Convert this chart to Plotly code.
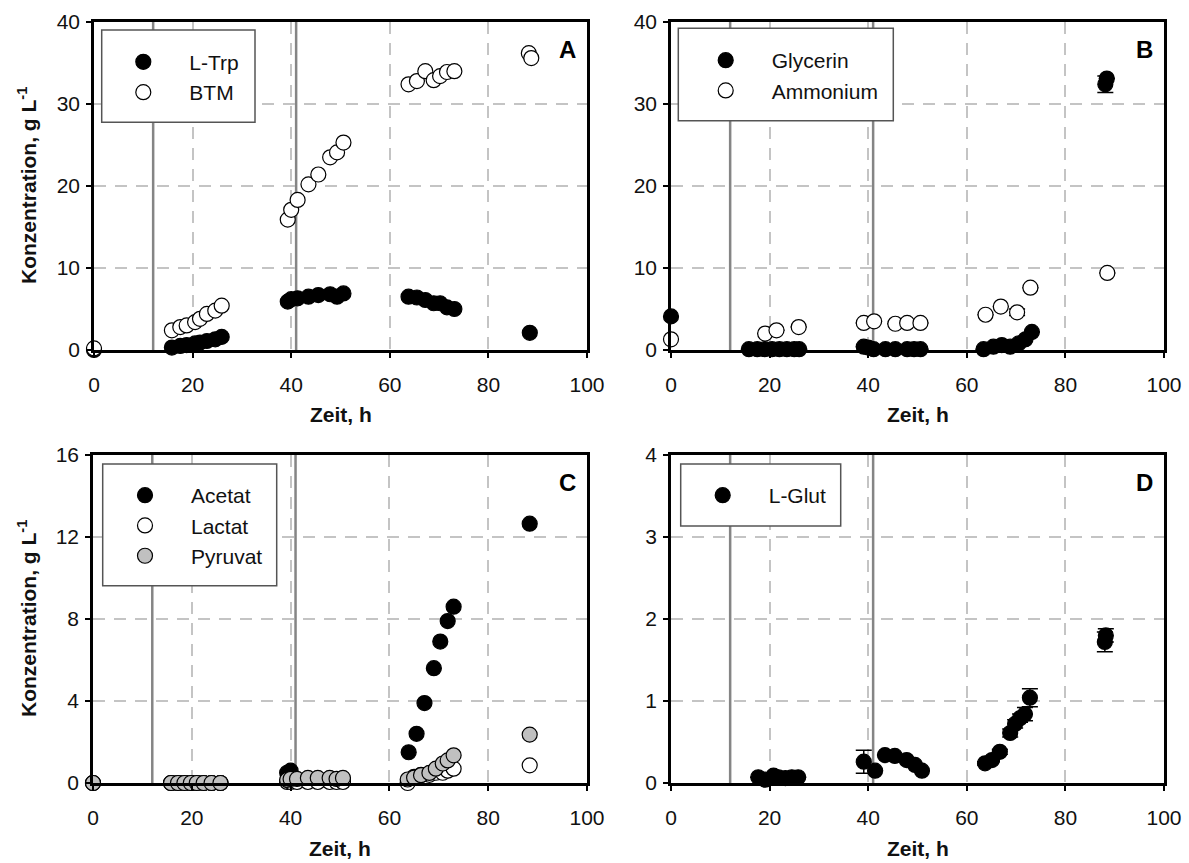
import plotly.graph_objects as go

W, H = 1189, 863

# ---------------- data ----------------
# Panel A
trp_t = [0, 15.8, 17.5, 18.8, 20.5, 21.5, 22.9, 24.6, 25.9,
         39.3, 40.0, 41.3, 43.5, 45.5, 47.9, 49.3, 50.6,
         63.8, 65.5, 67.2, 68.9, 70.2, 71.6, 73.1, 88.4]
trp_v = [0.0, 0.3, 0.5, 0.6, 0.8, 0.9, 1.1, 1.3, 1.6,
         5.9, 6.2, 6.3, 6.5, 6.7, 6.8, 6.5, 6.9,
         6.5, 6.4, 6.1, 5.7, 5.7, 5.2, 5.0, 2.1]
btm_t = [0, 15.8, 17.5, 18.8, 20.5, 21.5, 22.9, 24.6, 25.9,
         39.3, 40.0, 41.3, 43.5, 45.5, 47.9, 49.3, 50.6,
         63.8, 65.5, 67.2, 68.9, 70.2, 71.6, 73.1, 88.2, 88.7]
btm_v = [0.2, 2.4, 2.8, 3.0, 3.4, 3.8, 4.4, 4.8, 5.4,
         15.9, 17.1, 18.3, 20.2, 21.4, 23.5, 24.1, 25.3,
         32.4, 32.8, 34.0, 32.9, 33.4, 33.9, 34.0, 36.2, 35.6]

# Panel B
gly_t = [0, 15.8, 17.5, 19.0, 20.5, 22.0, 23.5, 25.0, 26.0,
         39.1, 40.0, 41.1, 43.5, 45.5, 47.9, 49.3, 50.6,
         63.4, 65.4, 67.1, 68.8, 70.5, 71.9, 73.2, 88.1, 88.4]
gly_v = [4.1, 0.1, 0.1, 0.1, 0.1, 0.1, 0.1, 0.1, 0.1,
         0.4, 0.3, 0.1, 0.1, 0.1, 0.1, 0.1, 0.1,
         0.1, 0.4, 0.6, 0.4, 0.8, 1.3, 2.2, 32.4, 33.1]
gly_e = [0, 0, 0, 0, 0, 0, 0, 0, 0,
         0, 0, 0, 0, 0, 0, 0, 0,
         0, 0, 0, 0, 0, 0, 0, 1.0, 0]
amm_t = [0, 19.1, 21.4, 25.9, 39.1, 41.2, 45.5, 47.9, 50.6,
         63.8, 66.9, 70.2, 72.9, 88.5]
amm_v = [1.3, 2.0, 2.4, 2.8, 3.3, 3.5, 3.2, 3.3, 3.3,
         4.3, 5.3, 4.6, 7.6, 9.4]
amm_e = [0, 0, 0, 0, 0, 0, 0, 0, 0, 0, 0, 0.4, 0, 0]

# Panel C
ace_t = [0, 15.8, 17.2, 18.5, 19.8, 21.0, 22.4, 24.0, 25.8,
         39.3, 40.0, 41.3, 43.5, 45.5, 47.9, 49.3, 50.6,
         63.9, 65.5, 67.1, 69.0, 70.3, 71.8, 73.0, 88.4]
ace_v = [0, 0, 0, 0, 0, 0, 0, 0, 0,
         0.5, 0.6, 0.1, 0.1, 0.1, 0.1, 0.1, 0.1,
         1.5, 2.4, 3.9, 5.6, 6.9, 7.9, 8.6, 12.65]
lac_t = [0, 15.8, 17.2, 18.5, 19.8, 21.0, 22.4, 24.0, 25.8,
         39.3, 40.0, 41.3, 43.5, 45.5, 47.9, 49.3, 50.6,
         63.7, 65.0, 66.4, 68.1, 69.4, 70.8, 71.8, 73.0, 88.4]
lac_v = [0, 0, 0, 0, 0, 0, 0, 0, 0,
         0.05, 0.05, 0.05, 0.05, 0.05, 0.05, 0.05, 0.05,
         0.0, 0.3, 0.4, 0.4, 0.5, 0.5, 0.6, 0.7, 0.86]
pyr_t = [0, 15.8, 17.2, 18.5, 19.8, 21.0, 22.4, 24.0, 25.8,
         39.3, 40.0, 41.3, 43.5, 45.5, 47.9, 49.3, 50.6,
         63.7, 65.0, 66.4, 68.1, 69.4, 70.8, 71.8, 73.0, 88.4]
pyr_v = [0, 0, 0, 0, 0, 0, 0, 0, 0,
         0.15, 0.2, 0.2, 0.25, 0.25, 0.25, 0.2, 0.25,
         0.17, 0.26, 0.38, 0.49, 0.7, 0.95, 1.1, 1.35, 2.36]

# Panel D
glu_t = [17.7, 19.1, 20.8, 21.8, 23.2, 24.5, 25.8,
         39.1, 41.4, 43.4, 45.4, 47.8, 49.5, 50.9,
         63.7, 65.1, 66.7, 68.8, 69.8, 70.8, 71.8, 72.8, 88.0, 88.2]
glu_v = [0.07, 0.04, 0.09, 0.07, 0.06, 0.07, 0.07,
         0.26, 0.15, 0.34, 0.33, 0.28, 0.22, 0.15,
         0.24, 0.28, 0.38, 0.61, 0.72, 0.79, 0.84, 1.04, 1.72, 1.80]
glu_e = [0, 0, 0, 0, 0, 0, 0,
         0.14, 0, 0, 0, 0, 0, 0,
         0.02, 0.02, 0.03, 0.05, 0.05, 0.05, 0.08, 0.11, 0.12, 0.08]

feed_times = [12, 41]
panel_letters = ["A", "B", "C", "D"]
y_ranges = [[0, 40], [0, 40], [0, 16], [0, 4]]
y_dtick = [10, 10, 4, 1]
x_title = "Zeit, h"
y_title = "Konzentration, g L<sup>-1</sup>"

# ---------------- style ----------------
FONT = "Liberation Sans, Arial, sans-serif"
TXT = "#111111"
GRID = "#c4c4c4"
VLINE = "#858585"

def px_x(p):
    return p / W

def px_y(p):
    return 1 - p / H

# plot areas in pixels (left, right, top, bottom)
areas = [(94, 587, 22, 350), (671, 1164, 22, 350),
         (93, 587, 455, 783), (671, 1164, 455, 783)]

fig = go.Figure()

def marker(fill):
    return dict(symbol="circle", size=15, color=fill,
                line=dict(color="black", width=1.2))

def add(t, v, name, fill, idx, err=None):
    ax = "" if idx == 0 else str(idx + 1)
    kw = {}
    if err is not None:
        kw["error_y"] = dict(type="data", array=err, visible=True,
                             color="black", thickness=1.5, width=8)
    fig.add_trace(go.Scatter(
        x=t, y=v, name=name, mode="markers", marker=marker(fill),
        xaxis="x" + ax, yaxis="y" + ax, cliponaxis=False,
        legend="legend" + ax, **kw))

add(trp_t, trp_v, "L-Trp", "black", 0)
add(btm_t, btm_v, "BTM", "white", 0)
add(gly_t, gly_v, "Glycerin", "black", 1, gly_e)
add(amm_t, amm_v, "Ammonium", "white", 1, amm_e)
add(ace_t, ace_v, "Acetat", "black", 2)
add(lac_t, lac_v, "Lactat", "white", 2)
add(pyr_t, pyr_v, "Pyruvat", "#c0c0c0", 2)
add(glu_t, glu_v, "L-Glut", "black", 3, glu_e)

layout = dict(
    template="none",
    width=W, height=H,
    margin=dict(l=0, r=0, t=0, b=0, autoexpand=False),
    paper_bgcolor="white", plot_bgcolor="rgba(0,0,0,0)",
    font=dict(family=FONT, size=21, color=TXT),
    showlegend=True,
)

shapes = []
annotations = []
for i, (l, r, t, b) in enumerate(areas):
    ax = "" if i == 0 else str(i + 1)
    layout["xaxis" + ax] = dict(
        domain=[px_x(l), px_x(r)], anchor="y" + ax, range=[0, 100],
        tickmode="linear", tick0=0, dtick=20, automargin=False,
        showline=True, linecolor="black", linewidth=2.5, mirror=True,
        ticks="outside", ticklen=5, tickwidth=1.5, tickcolor="black",
        showgrid=True, gridcolor=GRID, gridwidth=1.5, griddash="12px,9px",
        zeroline=False, ticklabelstandoff=9,
        tickfont=dict(family=FONT, size=21, color=TXT),
    )
    layout["yaxis" + ax] = dict(
        domain=[px_y(b), px_y(t)], anchor="x" + ax, range=y_ranges[i],
        tickmode="linear", tick0=0, dtick=y_dtick[i], automargin=False,
        showline=True, linecolor="black", linewidth=2.5, mirror=True,
        ticks="outside", ticklen=5, tickwidth=1.5, tickcolor="black",
        showgrid=True, gridcolor=GRID, gridwidth=1.5, griddash="12px,9px",
        zeroline=False, ticklabelstandoff=2,
        tickfont=dict(family=FONT, size=21, color=TXT),
    )
    for ft in feed_times:
        shapes.append(dict(type="line", xref="x" + ax, yref="paper",
                           x0=ft, x1=ft, y0=px_y(b), y1=px_y(t), layer="between",
                           line=dict(color=VLINE, width=2.5)))
    # x title
    annotations.append(dict(text="<b>" + x_title + "</b>", xref="paper", yref="paper",
                            x=px_x((l + r) / 2), y=px_y(b + 65), showarrow=False,
                            xanchor="center", yanchor="middle",
                            font=dict(family=FONT, size=21, color=TXT)))
    # panel letter
    annotations.append(dict(text="<b>" + panel_letters[i] + "</b>", xref="paper", yref="paper",
                            x=px_x(r - 20), y=px_y(t + 28), showarrow=False,
                            xanchor="center", yanchor="middle",
                            font=dict(family=FONT, size=24, color="black")))
    if i in (0, 2):
        annotations.append(dict(text="<b>" + y_title + "</b>", xref="paper", yref="paper",
                                x=px_x(27), y=px_y((t + b) / 2), showarrow=False,
                                textangle=-90, xanchor="center", yanchor="middle",
                                font=dict(family=FONT, size=21, color=TXT)))

# legend boxes (px): left, right, top, bottom ; symbol x ; first item y
leg_boxes = [(101.7, 255, 30, 122.3, 143.3, 61.7),
             (678.3, 893.3, 28.3, 120.7, 725.7, 60),
             (102.7, 276.7, 464, 585.7, 145, 495),
             (680.7, 840.7, 464, 526, 722.7, 495)]
for i, (l, r, t, b, sx, sy) in enumerate(leg_boxes):
    key = "legend" if i == 0 else "legend" + str(i + 1)
    shapes.append(dict(type="rect", xref="paper", yref="paper",
                       x0=px_x(l), x1=px_x(r), y0=px_y(b), y1=px_y(t),
                       layer="above", fillcolor="white",
                       line=dict(color="#555555", width=1.5)))
    layout[key] = dict(x=px_x(sx - 46), y=px_y(sy - 20), xanchor="left", yanchor="top",
                       bgcolor="rgba(0,0,0,0)", borderwidth=0, itemwidth=82,
                       font=dict(family=FONT, size=21, color=TXT),
                       tracegroupgap=0, itemclick=False)

layout["shapes"] = shapes
layout["annotations"] = annotations
fig.update_layout(**layout)

fig.write_html("out.html")
